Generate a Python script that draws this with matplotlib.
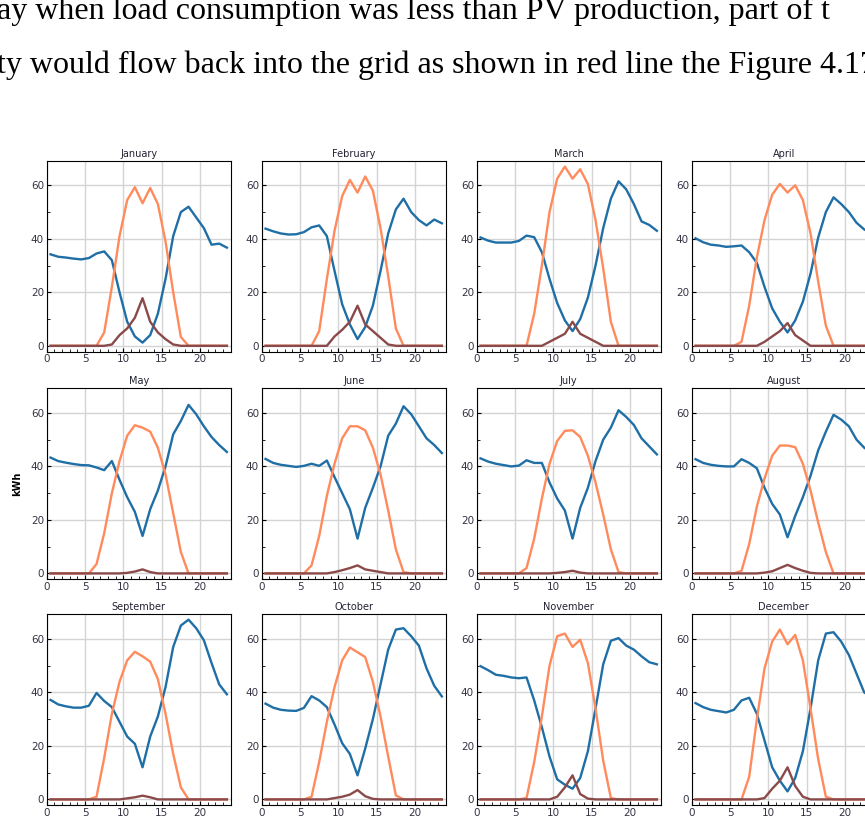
import numpy as np
import matplotlib
matplotlib.use("Agg")
import matplotlib.pyplot as plt
from matplotlib.ticker import MultipleLocator

# hours of the day (mid-hour points)
hours = np.arange(24) + 0.5

months = ["January", "February", "March", "April", "May", "June",
          "July", "August", "September", "October", "November", "December"]

# load consumption (blue)
load = [
    [34.2, 33.3, 33.0, 32.6, 32.3, 32.8, 34.5, 35.3, 32.0, 20.0, 9.0, 3.5, 1.2, 4.0, 12.0, 25.0, 41.0, 50.0, 52.0, 48.0, 44.0, 37.8, 38.2, 36.7],
    [43.8, 42.8, 42.0, 41.6, 41.7, 42.5, 44.3, 45.0, 41.0, 28.0, 15.5, 8.0, 2.5, 7.0, 15.0, 28.0, 42.0, 51.0, 55.0, 50.0, 47.0, 45.0, 47.2, 45.8],
    [40.5, 39.3, 38.6, 38.6, 38.6, 39.2, 41.2, 40.6, 35.0, 25.0, 16.0, 9.5, 5.5, 10.0, 18.0, 30.0, 44.0, 55.0, 61.5, 58.5, 53.0, 46.5, 45.2, 43.0],
    [40.2, 38.7, 37.8, 37.5, 37.0, 37.2, 37.5, 35.0, 31.0, 22.0, 14.0, 9.0, 5.0, 9.5, 16.5, 27.0, 40.5, 50.0, 55.5, 53.0, 50.0, 46.0, 43.5, 42.0],
    [43.3, 42.0, 41.4, 40.9, 40.5, 40.4, 39.6, 38.6, 42.0, 35.0, 28.5, 23.0, 14.0, 24.0, 31.0, 40.0, 52.0, 57.0, 63.0, 59.5, 55.0, 51.0, 48.0, 45.4],
    [42.8, 41.3, 40.6, 40.2, 39.8, 40.2, 41.0, 40.2, 42.2, 36.0, 30.0, 24.0, 13.0, 24.5, 32.0, 40.0, 51.5, 56.0, 62.5, 59.5, 55.0, 50.5, 48.0, 45.0],
    [43.0, 41.8, 41.0, 40.5, 40.0, 40.3, 42.3, 41.3, 41.3, 34.0, 28.0, 23.5, 13.0, 24.5, 32.0, 42.0, 50.0, 54.5, 61.0, 58.5, 55.5, 50.5, 47.5, 44.5],
    [42.7, 41.3, 40.6, 40.2, 40.0, 40.0, 42.7, 41.3, 39.3, 32.0, 26.0, 22.0, 13.5, 21.5, 28.5, 36.5, 46.0, 53.0, 59.3, 57.5, 55.0, 50.0, 47.0, 45.0],
    [37.2, 35.5, 34.8, 34.3, 34.3, 35.0, 39.8, 36.8, 34.5, 29.0, 23.5, 20.8, 12.0, 23.5, 31.0, 42.0, 57.0, 65.0, 67.2, 64.0, 59.5, 51.0, 43.0, 39.3],
    [35.8, 34.3, 33.5, 33.2, 33.1, 34.2, 38.6, 37.0, 34.5, 28.0, 21.0, 17.0, 9.0, 19.0, 30.0, 43.0, 56.0, 63.5, 64.0, 61.0, 57.5, 49.0, 42.5, 38.5],
    [49.8, 48.3, 46.6, 46.2, 45.6, 45.3, 45.6, 37.0, 27.0, 16.0, 7.5, 5.5, 4.0, 8.0, 18.0, 34.0, 50.5, 59.3, 60.3, 57.5, 56.0, 53.5, 51.3, 50.5],
    [36.0, 34.5, 33.5, 33.0, 32.5, 33.5, 37.0, 38.0, 32.0, 22.0, 12.0, 7.0, 3.0, 8.0, 18.0, 34.0, 52.0, 62.0, 62.5, 59.0, 54.0, 47.0, 40.0, 38.0],
]

# PV production (orange)
pv = [
    [0, 0, 0, 0, 0, 0, 0, 5.0, 22.0, 41.0, 54.5, 59.3, 53.3, 59.0, 53.0, 39.0, 20.0, 3.3, 0, 0, 0, 0, 0, 0],
    [0, 0, 0, 0, 0, 0, 0, 5.5, 25.0, 43.0, 56.0, 62.0, 57.3, 63.3, 58.0, 44.0, 26.0, 6.5, 0, 0, 0, 0, 0, 0],
    [0, 0, 0, 0, 0, 0, 0, 12.0, 30.0, 50.0, 62.5, 67.0, 62.5, 66.0, 60.5, 47.0, 29.0, 9.0, 0, 0, 0, 0, 0, 0],
    [0, 0, 0, 0, 0, 0, 1.5, 15.0, 33.0, 47.0, 56.5, 60.5, 57.3, 60.0, 54.5, 42.0, 24.0, 7.5, 0, 0, 0, 0, 0, 0],
    [0, 0, 0, 0, 0, 0, 3.5, 15.0, 30.0, 42.0, 51.5, 55.4, 54.5, 53.0, 47.0, 37.0, 22.5, 8.0, 0, 0, 0, 0, 0, 0],
    [0, 0, 0, 0, 0, 0, 3.0, 14.0, 29.0, 41.0, 50.5, 55.0, 55.0, 53.5, 47.0, 37.0, 23.5, 9.0, 0.5, 0, 0, 0, 0, 0],
    [0, 0, 0, 0, 0, 0, 2.0, 13.0, 28.0, 41.0, 49.5, 53.3, 53.5, 51.0, 44.0, 34.0, 22.0, 9.0, 0.5, 0, 0, 0, 0, 0],
    [0, 0, 0, 0, 0, 0, 1.0, 11.0, 25.0, 35.5, 44.0, 47.8, 47.8, 47.2, 41.0, 31.0, 19.0, 8.0, 0, 0, 0, 0, 0, 0],
    [0, 0, 0, 0, 0, 0, 1.0, 15.5, 32.0, 44.0, 52.0, 55.2, 53.5, 51.5, 45.0, 32.0, 17.0, 4.5, 0, 0, 0, 0, 0, 0],
    [0, 0, 0, 0, 0, 0, 1.0, 14.0, 29.0, 42.0, 52.0, 56.8, 55.0, 53.2, 44.0, 31.0, 16.0, 1.5, 0, 0, 0, 0, 0, 0],
    [0, 0, 0, 0, 0, 0, 0.5, 14.0, 31.0, 50.0, 61.0, 62.0, 57.0, 59.7, 51.0, 34.0, 14.5, 0.5, 0, 0, 0, 0, 0, 0],
    [0, 0, 0, 0, 0, 0, 0, 8.5, 30.0, 49.0, 59.0, 63.5, 58.0, 61.5, 52.0, 34.0, 15.0, 1.0, 0, 0, 0, 0, 0, 0],
]

# energy flowing back to grid (brown)
grid = [
    [0, 0, 0, 0, 0, 0, 0, 0, 0.5, 4.0, 6.5, 10.5, 17.8, 9.0, 5.0, 2.5, 0.5, 0, 0, 0, 0, 0, 0, 0],
    [0, 0, 0, 0, 0, 0, 0, 0, 0, 3.5, 6.0, 9.0, 15.0, 8.0, 5.5, 3.0, 0.5, 0, 0, 0, 0, 0, 0, 0],
    [0, 0, 0, 0, 0, 0, 0, 0, 0, 1.5, 3.0, 4.5, 9.0, 4.5, 3.0, 1.5, 0, 0, 0, 0, 0, 0, 0, 0],
    [0, 0, 0, 0, 0, 0, 0, 0, 0, 1.5, 3.5, 5.5, 8.5, 4.0, 2.0, 0, 0, 0, 0, 0, 0, 0, 0, 0],
    [0, 0, 0, 0, 0, 0, 0, 0, 0, 0, 0.2, 0.7, 1.5, 0.5, 0, 0, 0, 0, 0, 0, 0, 0, 0, 0],
    [0, 0, 0, 0, 0, 0, 0, 0, 0, 0.5, 1.2, 2.0, 3.0, 1.5, 1.0, 0.5, 0, 0, 0, 0, 0, 0, 0, 0],
    [0, 0, 0, 0, 0, 0, 0, 0, 0, 0, 0.2, 0.5, 1.0, 0.3, 0, 0, 0, 0, 0, 0, 0, 0, 0, 0],
    [0, 0, 0, 0, 0, 0, 0, 0, 0, 0.3, 0.8, 2.0, 3.2, 2.0, 1.0, 0.2, 0, 0, 0, 0, 0, 0, 0, 0],
    [0, 0, 0, 0, 0, 0, 0, 0, 0, 0, 0.4, 0.8, 1.4, 0.8, 0, 0, 0, 0, 0, 0, 0, 0, 0, 0],
    [0, 0, 0, 0, 0, 0, 0, 0, 0, 0.5, 1.0, 1.8, 3.5, 1.2, 0.2, 0, 0, 0, 0, 0, 0, 0, 0, 0],
    [0, 0, 0, 0, 0, 0, 0, 0, 0, 0, 1.0, 4.5, 9.0, 2.0, 0.3, 0, 0, 0, 0, 0, 0, 0, 0, 0],
    [0, 0, 0, 0, 0, 0, 0, 0, 0, 0.5, 4.0, 7.0, 12.0, 5.0, 1.0, 0, 0, 0, 0, 0, 0, 0, 0, 0],
]

W, H = 865, 818
fig = plt.figure(figsize=(W / 100, H / 100), dpi=100)

# page text above the figure (cut at the edges like the page crop)
fig.text(-0.003, 1 - 19 / H, "ay when load consumption was less than PV production, part of t",
         family="Liberation Serif", fontsize=23, va="baseline", ha="left")
fig.text(-0.003, 1 - 73 / H, "ty would flow back into the grid as shown in red line the Figure 4.17",
         family="Liberation Serif", fontsize=23, va="baseline", ha="left")

col_left = [46.7, 261.7, 476.7, 691.7]
row_top = [160.7, 388.3, 614.3]
aw, ah = 184, 191

for i in range(12):
    r, c = divmod(i, 4)
    ax = fig.add_axes([col_left[c] / W, 1 - (row_top[r] + ah) / H, aw / W, ah / H])
    ax.plot(hours, load[i], color="#1f6fa6", lw=1.7)
    ax.plot(hours, pv[i], color="#ff8a5c", lw=1.7)
    ax.plot(hours, grid[i], color="#8b4a4a", lw=1.7)
    ax.set_xlim(0, 24)
    ax.set_ylim(-2.2, 69.2)
    ax.set_xticks([0, 5, 10, 15, 20])
    ax.set_yticks([0, 20, 40, 60])
    ax.xaxis.set_minor_locator(MultipleLocator(1))
    ax.yaxis.set_minor_locator(MultipleLocator(10))
    ax.tick_params(which="both", direction="in", labelsize=7.5, labelcolor="#333344", pad=2)
    ax.tick_params(which="major", length=3)
    ax.tick_params(which="minor", length=2)
    ax.grid(True, which="major", color="#d4d4d4", lw=1)
    ax.set_axisbelow(True)
    for s in ax.spines.values():
        s.set_linewidth(0.8)
    ax.set_title(months[i], fontsize=7, pad=3, color="#222233")
    if i == 4:
        ax.set_ylabel("kWh", fontsize=7, fontweight="bold", labelpad=6)

plt.savefig("out.png", dpi=100)
